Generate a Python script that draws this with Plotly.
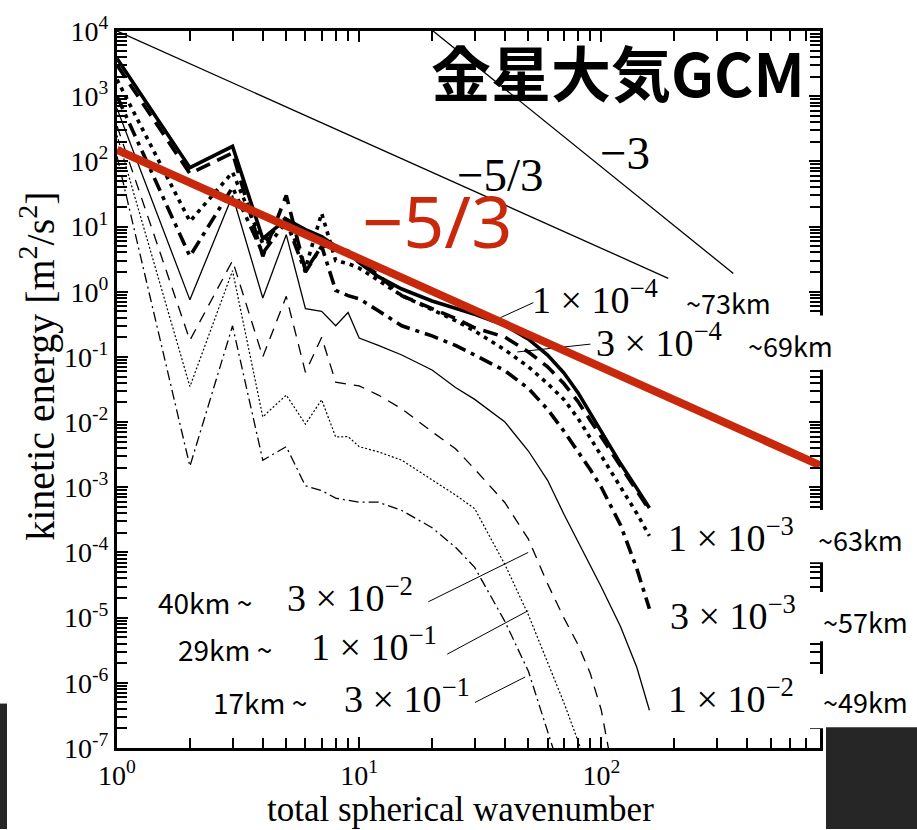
import math
import plotly.graph_objects as go

# ---------------- data ----------------
wavenumber = [1, 2, 3, 4, 5, 6, 7, 8, 9, 10, 12, 15, 20, 25, 30, 40, 50, 60, 70, 80, 90, 100, 120, 140, 158]

ke_p1e4 = [3800, 80, 170, 6.5, 13, 9, 7, 5, 4, 2.8, 1.7, 1.1, 0.72, 0.55, 0.45, 0.305, 0.187, 0.107, 0.057, 0.0285, 0.0137, 0.0070, 0.00231, 9.7e-4, 4.8e-4]
ke_p3e4 = [3000, 65, 135, 3.5, 30, 2.1, 5, 5.0, 4.2, 3.0, 1.8, 0.87, 0.55, 0.39, 0.28, 0.201, 0.119, 0.0705, 0.039, 0.0208, 0.0107, 0.00593, 0.00208, 9.0e-4, 4.5e-4]
ke_p1e3 = [1800, 12, 68, 5.5, 14, 2.3, 16, 3.0, 2.7, 2.3, 1.5, 0.87, 0.53, 0.36, 0.25, 0.128, 0.0705, 0.039, 0.0223, 0.0115, 0.00573, 0.00305, 0.0010, 4.0e-4, 1.8e-4]
ke_p3e3 = [1000, 3.5, 40, 3.9, 12, 2.0, 5, 1.05, 0.87, 0.78, 0.51, 0.30, 0.21, 0.15, 0.107, 0.0613, 0.0328, 0.0157, 0.0073, 0.00364, 0.00187, 0.0010, 2.65e-4, 5.7e-5, 1.37e-5]
ke_p1e2 = [650, 0.75, 30, 0.8, 7.5, 0.55, 0.5, 0.3, 0.48, 0.195, 0.15, 0.107, 0.063, 0.034, 0.0223, 0.010, 0.0036, 0.00128, 3.9e-4, 1.47e-4, 6.4e-5, 2.95e-5, 7.3e-6, 1.75e-6, 3.8e-7]
ke_p3e2 = [350, 0.18, 3.0, 0.1, 0.85, 0.058, 0.2, 0.041, 0.038, 0.036, 0.026, 0.016, 0.0071, 0.0039, 0.0019, 5.8e-4, 1.6e-4, 3.3e-5, 1.0e-5, 3.9e-6, 1.4e-6, 3.8e-7, 1e-8, None, None]
ke_p1e1 = [250, 0.035, 2.1, 0.012, 0.026, 0.0093, 0.022, 0.0059, 0.006, 0.0042, 0.0035, 0.0026, 0.0013, 7.6e-4, 4.7e-4, 6.5e-5, 1.1e-5, 2e-6, 5e-7, 1.3e-7, 4e-8, None, None, None, None]
ke_p3e1 = [120, 0.0021, 0.3, 0.0026, 0.0042, 0.00105, 8.9e-4, 6.8e-4, 6.3e-4, 5.9e-4, 5.9e-4, 4.4e-4, 2.4e-4, 1.2e-4, 5.9e-5, 8.7e-6, 1.5e-6, 1.9e-7, 3e-8, None, None, None, None, None, None]

# reference power-law slopes (start/end wavenumber and amplitude)
slope53_start, slope53_end, slope53_amp = 1, 189, 1e4
slope3_start, slope3_end, slope3_amp = 20.2, 351, 1e4
red53_start, red53_end, red53_amp = 1, 800, 150

# leader lines: ([n0, n1], [E0, E1])
leader_p1e4 = ([38.3, 52.4], [0.40, 0.68])
leader_p3e4 = ([45.0, 90.1], [0.119, 0.157])
leader_p3e2 = ([19.3, 49.9], [1.75e-5, 1.0e-4])
leader_p1e1 = ([23.1, 49.9], [2.75e-6, 1.28e-5])
leader_p3e1 = ([30.1, 48.5], [5.0e-7, 1.23e-6])

y_tick_exp = [4, 3, 2, 1, 0, -1, -2, -3, -4, -5, -6, -7]
x_tick_exp = [0, 1, 2]

# ---------------- figure ----------------
W, H = 917, 830
L, R, T, B = 117, 820, 22, 748
SERIF = "Liberation Serif"
SANS = "Noto Sans CJK JP"
RED = "#c8280c"

fig = go.Figure()

series = [
    (ke_p1e4, 3.6, "solid"),
    (ke_p3e4, 3.6, "15px,8px"),
    (ke_p1e3, 3.6, "4px,5px"),
    (ke_p3e3, 3.6, "14px,6px,4px,6px"),
    (ke_p1e2, 1.3, "solid"),
    (ke_p3e2, 1.3, "11px,8px"),
    (ke_p1e1, 1.2, "2px,2px"),
    (ke_p3e1, 1.3, "10px,4px,2px,4px"),
]
for vals, w, d in series:
    fig.add_trace(go.Scatter(x=wavenumber, y=vals, mode="lines",
                             line=dict(color="black", width=w, dash=d),
                             connectgaps=False, hoverinfo="skip"))


def power_line(n0, n1, amp, slope, nref=1):
    xs = [n0, n1]
    ys = [amp * (n / nref) ** slope for n in xs]
    return xs, ys


x, y = power_line(slope53_start, slope53_end, slope53_amp, -5 / 3)
fig.add_trace(go.Scatter(x=x, y=y, mode="lines", line=dict(color="black", width=1.3), hoverinfo="skip"))
x, y = power_line(slope3_start, slope3_end, slope3_amp, -3, nref=slope3_start)
fig.add_trace(go.Scatter(x=x, y=y, mode="lines", line=dict(color="black", width=1.3), hoverinfo="skip"))

for lx, ly in [leader_p1e4, leader_p3e4, leader_p3e2, leader_p1e1, leader_p3e1]:
    fig.add_trace(go.Scatter(x=lx, y=ly, mode="lines", line=dict(color="black", width=1), hoverinfo="skip"))

x, y = power_line(red53_start, red53_end, red53_amp, -5 / 3)
fig.add_trace(go.Scatter(x=x, y=y, mode="lines", line=dict(color=RED, width=8), hoverinfo="skip"))


def px2paper(px, py):
    return (px - L) / (R - L), (B - py) / (B - T)


annos = []


def add_text(text, px, py, font, size, color="black", xanchor="left", angle=0):
    xp, yp = px2paper(px, py)
    annos.append(dict(text=text, x=xp, y=yp, xref="paper", yref="paper", xanchor=xanchor,
                      yanchor="middle", showarrow=False, textangle=angle,
                      font=dict(family=font, size=size, color=color)))


add_text("~73km", 684, 297, SANS, 27)
add_text("~69km", 746, 340, SANS, 27)
add_text("~63km", 816, 537, SANS, 27)
add_text("~57km", 821, 620, SANS, 27)
add_text("~49km", 821, 701, SANS, 27)

add_text("1 × 10<sup>−4</sup>", 530, 291, SERIF, 38)
add_text("3 × 10<sup>−4</sup>", 594, 335, SERIF, 38)
add_text("1 × 10<sup>−3</sup>", 666, 532, SERIF, 38)
add_text("3 × 10<sup>−3</sup>", 668, 611, SERIF, 38)
add_text("1 × 10<sup>−2</sup>", 666, 695, SERIF, 38)

add_text("40km ~", 156, 600, SANS, 28)
add_text("3 × 10<sup>−2</sup>", 285, 593, SERIF, 38)
add_text("29km ~", 176, 648, SANS, 28)
add_text("1 × 10<sup>−1</sup>", 309, 643, SERIF, 38)
add_text("17km ~", 211, 701, SANS, 28)
add_text("3 × 10<sup>−1</sup>", 342, 695, SERIF, 38)

add_text("−5/3", 500, 168, SERIF, 47, xanchor="center")
add_text("−3", 625, 146, SERIF, 47, xanchor="center")
add_text("−5/3", 437, 213, "Noto Sans", 72, color=RED, xanchor="center")
add_text("<b>金星大気GCM</b>", 618, 62, SANS, 60, xanchor="center")

# axis titles placed as text
add_text("total spherical wavenumber", 460, 810, SERIF, 35, xanchor="center")
add_text("kinetic energy [m<sup>2</sup>/s<sup>2</sup>]", 38, 362, SERIF, 40, xanchor="center", angle=-90)

shapes = []
# white patches where the labels cut the right-hand frame
for (y0, y1) in [(310, 365), (507, 560), (590, 640), (673, 728)]:
    a0, b0 = px2paper(805, y0)
    a1, b1 = px2paper(826, y1)
    shapes.append(dict(type="rect", xref="paper", yref="paper", x0=a0, y0=b0, x1=a1, y1=b1,
                       fillcolor="white", line=dict(width=0), layer="above"))
# dark blocks at the bottom corners
for (x0, y0, x1, y1) in [(0, 703, 7, 830), (826, 727, 917, 830)]:
    a0, b0 = px2paper(x0, y0)
    a1, b1 = px2paper(x1, y1)
    shapes.append(dict(type="rect", xref="paper", yref="paper", x0=a0, y0=b0, x1=a1, y1=b1,
                       fillcolor="#262626", line=dict(width=0), layer="above"))

axis_common = dict(
    type="log", showline=True, linewidth=3, linecolor="black", mirror="ticks",
    ticks="inside", ticklen=11, tickwidth=2, tickcolor="black", showgrid=False, zeroline=False,
    tickfont=dict(family=SERIF, size=28, color="black"),
    minor=dict(ticks="inside", ticklen=10, tickwidth=1.6, tickcolor="black", dtick="D1", showgrid=False),
)

fig.update_layout(
    width=W, height=H,
    margin=dict(l=L, r=W - R, t=T, b=H - B),
    plot_bgcolor="white", paper_bgcolor="white",
    showlegend=False,
    xaxis=dict(**axis_common, range=[0, math.log10(800)],
               tickmode="array", tickvals=[10 ** e for e in x_tick_exp],
               ticktext=[f"10<sup>{e}</sup>" for e in x_tick_exp]),
    yaxis=dict(**axis_common, range=[-7, 4],
               tickmode="array", tickvals=[10 ** e for e in y_tick_exp],
               ticktext=[f"10<sup>{e}</sup>" for e in y_tick_exp]),
    annotations=annos,
    shapes=shapes,
)

fig.write_html("out.html")
